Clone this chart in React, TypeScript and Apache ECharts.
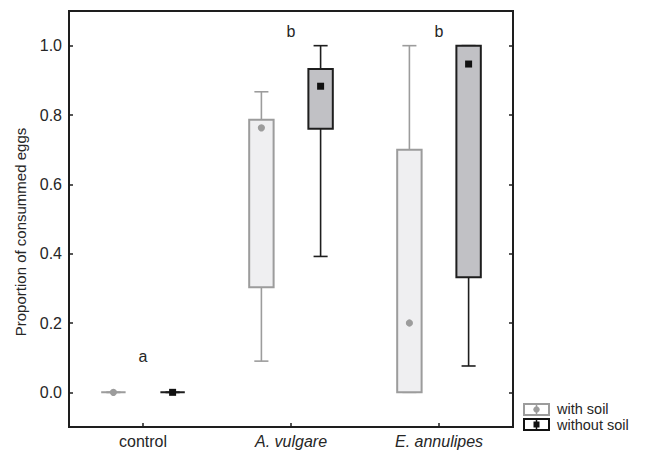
import React, { useEffect, useRef } from "react";
import * as echarts from "echarts";

const categories = ["control", "A. vulgare", "E. annulipes"];

const withSoilMin = [0, 0.09, 0];
const withSoilQ1 = [0, 0.303, 0];
const withSoilQ3 = [0, 0.786, 0.7];
const withSoilMax = [0, 0.867, 1.0];
const withSoilMid = [0, 0.763, 0.2];

const withoutSoilMin = [0, 0.392, 0.076];
const withoutSoilQ1 = [0, 0.76, 0.332];
const withoutSoilQ3 = [0, 0.933, 1.0];
const withoutSoilMax = [0, 1.0, 1.0];
const withoutSoilMid = [0, 0.883, 0.947];

const letters = ["a", "b", "b"];
const letterY = [0.104, 1.04, 1.04];

const yTickLabels = ["0.0", "0.2", "0.4", "0.6", "0.8", "1.0"];

const FONT = "'Liberation Sans', Arial, sans-serif";
const TEXT = "#262626";

const GRAY_STROKE = "#9c9c9c";
const GRAY_FILL = "#efeff1";
const DARK_STROKE = "#1e1e1e";
const DARK_FILL = "#c1c1c5";

function makeRender(offsetFrac: number, stroke: string, fill: string, marker: "circle" | "square") {
  return (params: any, api: any) => {
    const cat = api.value(0);
    const lo = api.value(1);
    const q1 = api.value(2);
    const q3 = api.value(3);
    const hi = api.value(4);
    const mid = api.value(5);
    const band = api.size([1, 0])[0];
    const cx = api.coord([cat, 0])[0] + offsetFrac * band;
    const yLo = api.coord([cat, lo])[1];
    const yQ1 = api.coord([cat, q1])[1];
    const yQ3 = api.coord([cat, q3])[1];
    const yHi = api.coord([cat, hi])[1];
    const yMid = api.coord([cat, mid])[1];
    const bw = band * 0.165;
    const cw = band * 0.095;
    const lineStyle = { stroke, lineWidth: 1.6, fill: "none" };
    const children: any[] = [
      { type: "line", shape: { x1: cx, y1: yHi, x2: cx, y2: yQ3 }, style: lineStyle },
      { type: "line", shape: { x1: cx, y1: yQ1, x2: cx, y2: yLo }, style: lineStyle },
      { type: "line", shape: { x1: cx - cw / 2, y1: yHi, x2: cx + cw / 2, y2: yHi }, style: lineStyle },
      { type: "line", shape: { x1: cx - cw / 2, y1: yLo, x2: cx + cw / 2, y2: yLo }, style: lineStyle },
      {
        type: "rect",
        shape: { x: cx - bw / 2, y: yQ3, width: bw, height: Math.max(yQ1 - yQ3, 0) },
        style: { fill, stroke, lineWidth: 2 },
      },
    ];
    if (marker === "circle") {
      children.push({ type: "circle", shape: { cx, cy: yMid, r: 3.6 }, style: { fill: GRAY_STROKE } });
    } else {
      children.push({ type: "rect", shape: { x: cx - 3.5, y: yMid - 3.5, width: 7, height: 7 }, style: { fill: "#111" } });
    }
    return { type: "group", children };
  };
}

export default function App() {
  const ref = useRef<HTMLDivElement>(null);
  useEffect(() => {
    document.body.style.margin = "0";
    const chart = echarts.init(ref.current!, null, { renderer: "svg" });
    const withData = categories.map((_, i) => [i, withSoilMin[i], withSoilQ1[i], withSoilQ3[i], withSoilMax[i], withSoilMid[i]]);
    const withoutData = categories.map((_, i) => [i, withoutSoilMin[i], withoutSoilQ1[i], withoutSoilQ3[i], withoutSoilMax[i], withoutSoilMid[i]]);
    const letterData = categories.map((_, i) => [i, letterY[i]]);

    chart.setOption({
      animation: false,
      backgroundColor: "#ffffff",
      grid: {
        left: 69,
        top: 11,
        right: 133,
        bottom: 27,
        show: true,
        borderColor: "#1e1e1e",
        borderWidth: 2,
        backgroundColor: "transparent",
      },
      xAxis: {
        type: "category",
        data: categories,
        boundaryGap: true,
        axisLine: { show: false, onZero: false },
        axisTick: { show: true, inside: true, length: 4, alignWithLabel: true, lineStyle: { color: "#1e1e1e", width: 1.5 } },
        axisLabel: {
          margin: 6,
          fontFamily: FONT,
          fontSize: 16,
          color: TEXT,
          formatter: (v: string, i: number) => (i === 0 ? `{n|${v}}` : `{it|${v}}`),
          rich: {
            n: { fontFamily: FONT, fontSize: 16, color: TEXT },
            it: { fontFamily: FONT, fontSize: 16, color: TEXT, fontStyle: "italic" },
          },
        },
        splitLine: { show: false },
      },
      yAxis: [
        {
          type: "value",
          min: -0.1,
          max: 1.1,
          splitNumber: 5,
          axisLine: { show: false },
          axisTick: { show: true, inside: true, length: 4, lineStyle: { color: "#1e1e1e", width: 1.5 } },
          axisLabel: {
            margin: 7,
            fontFamily: FONT,
            fontSize: 16,
            color: TEXT,
            formatter: (v: number) => {
              const idx = Math.round(v / 0.2);
              if (Math.abs(v - idx * 0.2) > 1e-6 || idx < 0 || idx >= yTickLabels.length) return "";
              return yTickLabels[idx];
            },
          },
          splitLine: { show: false },
        },
        {
          type: "value",
          position: "right",
          min: -0.1,
          max: 1.1,
          splitNumber: 5,
          axisLine: { show: false },
          axisTick: { show: true, inside: true, length: 4, lineStyle: { color: "#1e1e1e", width: 1.5 } },
          axisLabel: { show: false },
          splitLine: { show: false },
        },
      ],
      series: [
        {
          type: "custom",
          name: "with soil",
          renderItem: makeRender(-0.2, GRAY_STROKE, GRAY_FILL, "circle"),
          data: withData,
          clip: false,
        },
        {
          type: "custom",
          name: "without soil",
          renderItem: makeRender(0.2, DARK_STROKE, DARK_FILL, "square"),
          data: withoutData,
          clip: false,
        },
        {
          type: "custom",
          name: "letters",
          renderItem: (params: any, api: any) => {
            const p = api.coord([api.value(0), api.value(1)]);
            return {
              type: "text",
              style: {
                text: letters[params.dataIndex],
                x: p[0],
                y: p[1],
                align: "center",
                verticalAlign: "middle",
                fontFamily: FONT,
                fontSize: 16,
                fill: TEXT,
              },
            };
          },
          data: letterData,
          clip: false,
        },
      ],
      graphic: [
        {
          type: "text",
          x: 20,
          y: 232,
          rotation: Math.PI / 2,
          style: {
            text: "Proportion of consummed eggs",
            align: "center",
            verticalAlign: "middle",
            fontFamily: FONT,
            fontSize: 15,
            fill: TEXT,
          },
        },
        {
          type: "group",
          children: [
            { type: "rect", shape: { x: 524, y: 404, width: 25, height: 11 }, style: { fill: "#fff", stroke: GRAY_STROKE, lineWidth: 2 } },
            { type: "line", shape: { x1: 536.5, y1: 404, x2: 536.5, y2: 415 }, style: { stroke: GRAY_STROKE, lineWidth: 1.5 } },
            { type: "circle", shape: { cx: 536.5, cy: 409.5, r: 3.2 }, style: { fill: GRAY_STROKE } },
            { type: "rect", shape: { x: 524, y: 419, width: 25, height: 11 }, style: { fill: "#fff", stroke: "#111", lineWidth: 2 } },
            { type: "line", shape: { x1: 536.5, y1: 419, x2: 536.5, y2: 430 }, style: { stroke: "#111", lineWidth: 1.5 } },
            { type: "rect", shape: { x: 533.5, y: 421.5, width: 6, height: 6 }, style: { fill: "#111" } },
            {
              type: "text",
              x: 557,
              y: 409,
              style: { text: "with soil", verticalAlign: "middle", fontFamily: FONT, fontSize: 14.5, fill: TEXT },
            },
            {
              type: "text",
              x: 557,
              y: 425,
              style: { text: "without soil", verticalAlign: "middle", fontFamily: FONT, fontSize: 14.5, fill: TEXT },
            },
          ],
        },
      ],
    });
    return () => chart.dispose();
  }, []);
  return <div ref={ref} style={{ width: 646, height: 454 }} />;
}
